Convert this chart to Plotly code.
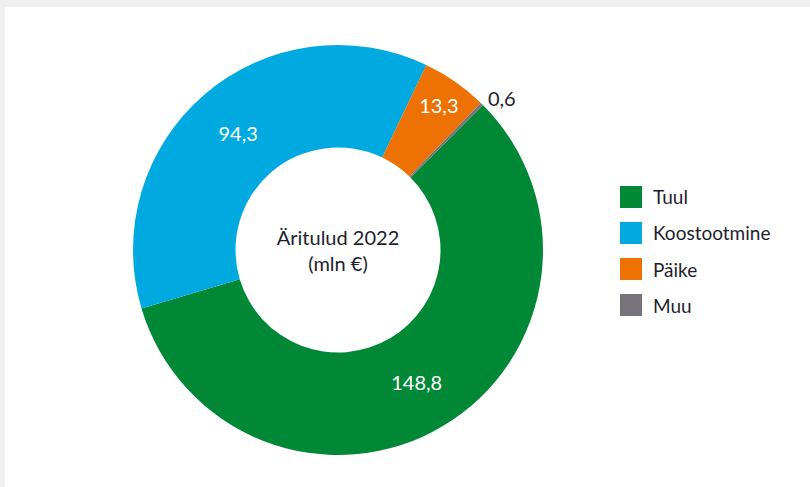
import plotly.graph_objects as go

W, H = 810, 487

categories = ["Tuul", "Koostootmine", "Päike", "Muu"]
values = [148.8, 94.3, 13.3, 0.6]
value_labels = ["148,8", "94,3", "13,3", "0,6"]
colors = ["#008837", "#00a9e0", "#ee7203", "#77737b"]
text_positions = ["inside", "inside", "inside", "outside"]
center_title = "Äritulud 2022<br>(mln €)"

TEXT = "#1f1d2e"
FONT = "Lato"

cx, cy, R = 338, 250, 205

fig = go.Figure()
fig.add_trace(go.Pie(
    labels=categories,
    values=values,
    text=value_labels,
    textinfo="text",
    textposition=text_positions,
    insidetextorientation="horizontal",
    insidetextfont=dict(color="white", size=20, family=FONT),
    outsidetextfont=dict(color=TEXT, size=20, family=FONT),
    marker=dict(colors=colors, line=dict(width=0)),
    hole=0.5,
    sort=False,
    direction="clockwise",
    rotation=45,
    showlegend=False,
    title=dict(text=center_title, position="middle center",
               font=dict(size=20, family=FONT, color=TEXT)),
    domain=dict(x=[(cx - R) / W, (cx + R) / W],
                y=[1 - (cy + R) / H, 1 - (cy - R) / H]),
    hoverinfo="label+value",
))

shapes = [
    dict(type="rect", xref="paper", yref="paper", x0=0, x1=1, y0=1 - 7 / H, y1=1,
         fillcolor="#efefef", line=dict(width=0)),
    dict(type="rect", xref="paper", yref="paper", x0=0, x1=5 / W, y0=0, y1=1,
         fillcolor="#efefef", line=dict(width=0)),
]
annotations = []
for i, (cat, col) in enumerate(zip(categories, colors)):
    yc = 197 + i * 36
    shapes.append(dict(type="rect", xref="paper", yref="paper",
                       x0=620 / W, x1=642 / W, y0=1 - (yc + 11) / H, y1=1 - (yc - 11) / H,
                       fillcolor=col, line=dict(width=0)))
    annotations.append(dict(x=651 / W, y=1 - yc / H, xref="paper", yref="paper",
                            text=cat, showarrow=False, xanchor="left", yanchor="middle",
                            font=dict(size=19, family=FONT, color=TEXT)))

fig.update_layout(
    width=W, height=H,
    margin=dict(l=0, r=0, t=0, b=0),
    paper_bgcolor="white",
    plot_bgcolor="white",
    shapes=shapes,
    annotations=annotations,
    font=dict(family=FONT, color=TEXT),
)

fig.write_html("out.html",
               config={"displayModeBar": False},
               post_script="document.body.style.margin='0';document.body.style.overflow='hidden';")
